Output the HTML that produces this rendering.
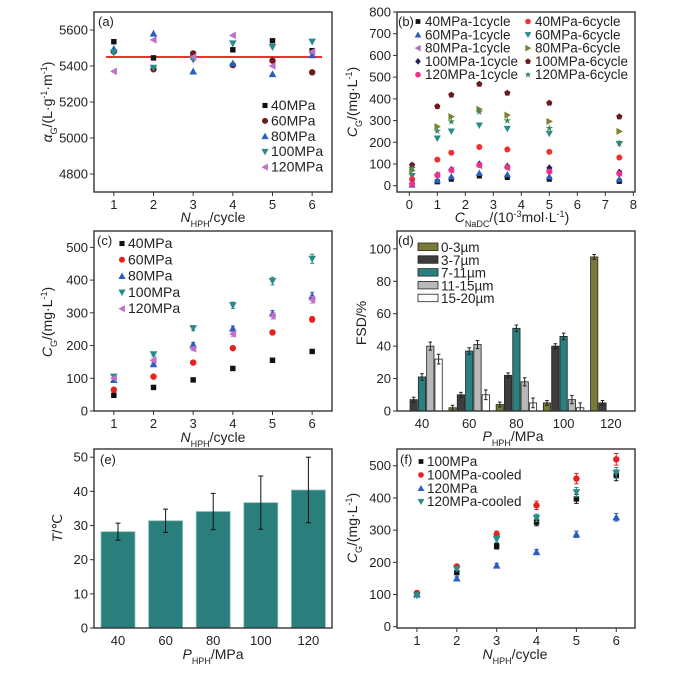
<!DOCTYPE html>
<html><head><meta charset="utf-8"><style>
html,body{margin:0;padding:0;background:#fff}
svg{display:block;font-family:"Liberation Sans",Arial,sans-serif}
</style></head><body>
<svg id="fig" width="679" height="673" viewBox="0 0 679 673" xmlns="http://www.w3.org/2000/svg"></svg>
<script>
// ---------- data ----------
const cycles = [1,2,3,4,5,6];
const pressures = ['40','60','80','100','120'];
// (a) alpha_G
const aMarkers = ['square','circle','up','down','left'];
const aColors = ['#111','#6e1c1c','#2a5fbf','#2a8c8a','#c070c8'];
const a40 = [5535,5445,5450,5490,5540,5485];
const a60 = [5480,5382,5470,5405,5430,5365];
const a80 = [5495,5580,5370,5415,5355,5460];
const a100 = [5475,5390,5435,5525,5505,5535];
const a120 = [5370,5545,5450,5570,5400,5480];
const aMean = 5450;
// (b) CG vs NaDC
const nadc = [0.1,1,1.5,2.5,3.5,5,7.5];
const bLabels = ['40MPa-1cycle','60MPa-1cycle','80MPa-1cycle','100MPa-1cycle','120MPa-1cycle','40MPa-6cycle','60MPa-6cycle','80MPa-6cycle','100MPa-6cycle','120MPa-6cycle'];
const bMarkers = ['square','up','left','diamond','circle','circle','down','right','pentagon','star'];
const bColors = ['#111','#2a5fbf','#b070c0','#20205a','#f0308a','#f03030','#2a8c8a','#808030','#6a1a1a','#3a8a5a'];
const b40_1 = [3,18,30,45,38,30,20];
const b60_1 = [5,25,42,58,52,42,30];
const b80_1 = [10,50,72,92,82,72,58];
const b100_1 = [10,50,75,100,90,82,62];
const b120_1 = [8,48,72,95,85,65,55];
const b40_6 = [30,120,152,178,167,156,130];
const b60_6 = [45,218,250,278,262,240,193];
const b80_6 = [70,272,318,352,325,296,250];
const b100_6 = [95,365,418,468,427,381,318];
const b120_6 = [80,252,295,340,300,265,195];
// (c)
const cColors = ['#111','#e82020','#2a5fbf','#2a8c8a','#c070c8'];
const c40 = [48,72,95,130,155,182];
const c60 = [65,105,148,192,240,280];
const c80 = [95,143,203,252,298,352];
const c100 = [105,173,253,323,397,465];
const c120 = [100,155,190,235,290,340];
// (d) FSD
const dLabels = ['0-3µm','3-7µm','7-11µm','11-15µm','15-20µm'];
const dColors = ['#7a7a38','#3c3c3c','#2a8080','#b8b8b8','#ffffff'];
const d0_3 = [0,2,4,5,95];
const d3_7 = [7,10,22,40,5];
const d7_11 = [21,37,51,46,0];
const d11_15 = [40,41,18,7,0];
const d15_20 = [32,10,5,2,0];
const dErr = [1.5,1.5,2,2.5,3];
// (e) temperature
const eTemp = [28.2,31.4,34.1,36.7,40.4];
const eErr = [2.5,3.4,5.3,7.8,9.6];
// (f)
const fLabels = ['100MPa','100MPa-cooled','120MPa','120MPa-cooled'];
const fMarkers = ['square','circle','up','down'];
const fColors = ['#111','#e82020','#2a5fbf','#2a8c8a'];
const f100 = [100,168,250,325,397,470];
const f100c = [105,187,287,377,460,520];
const f120 = [100,150,190,232,287,340];
const f120c = [97,180,272,338,418,478];

// ---------- helpers ----------
const NS='http://www.w3.org/2000/svg';
const svg=document.getElementById('fig');
function mk(tag,attrs,parent){const e=document.createElementNS(NS,tag);for(const k in attrs)e.setAttribute(k,attrs[k]);(parent||svg).appendChild(e);return e;}
function lin(d0,d1,r0,r1){return v=>r0+(v-d0)/(d1-d0)*(r1-r0);}
function marker(g,type,x,y,c,s){
  s=s||3.2;let e;
  if(type==='square')e=mk('rect',{x:x-s*0.85,y:y-s*0.85,width:s*1.7,height:s*1.7,fill:c},g);
  else if(type==='circle')e=mk('circle',{cx:x,cy:y,r:s,fill:c},g);
  else if(type==='diamond')e=mk('polygon',{points:`${x},${y-s*1.2} ${x+s},${y} ${x},${y+s*1.2} ${x-s},${y}`,fill:c},g);
  else if(type==='pentagon'){let p=[];for(let i=0;i<5;i++){const a=-Math.PI/2+i*2*Math.PI/5;p.push((x+s*1.1*Math.cos(a))+','+(y+s*1.1*Math.sin(a)));}e=mk('polygon',{points:p.join(' '),fill:c},g);}
  else if(type==='star'){let p=[];for(let i=0;i<10;i++){const a=-Math.PI/2+i*Math.PI/5,r=i%2?s*0.5:s*1.3;p.push((x+r*Math.cos(a))+','+(y+r*Math.sin(a)));}e=mk('polygon',{points:p.join(' '),fill:c},g);}
  else{const t=s*1.2;let pts;
    if(type==='up')pts=`${x},${y-t} ${x+t},${y+t*0.8} ${x-t},${y+t*0.8}`;
    else if(type==='down')pts=`${x},${y+t} ${x+t},${y-t*0.8} ${x-t},${y-t*0.8}`;
    else if(type==='left')pts=`${x-t},${y} ${x+t*0.8},${y-t} ${x+t*0.8},${y+t}`;
    else pts=`${x+t},${y} ${x-t*0.8},${y-t} ${x-t*0.8},${y+t}`;
    e=mk('polygon',{points:pts,fill:c},g);}
  return e;
}
function frame(g,f){mk('rect',{x:f.l,y:f.t,width:f.r-f.l,height:f.b-f.t,fill:'none',stroke:'#333','stroke-width':1.4},g);}
function yTicks(g,f,sy,vals){vals.forEach(v=>{const y=sy(v);mk('line',{x1:f.l-4,y1:y,x2:f.l,y2:y,stroke:'#333','stroke-width':1},g);
  const t=mk('text',{x:f.l-6,y:y+4.5,'text-anchor':'end','font-size':13,fill:'#222'},g);t.textContent=v;});}
function xTicks(g,f,sx,vals,labels){vals.forEach((v,i)=>{const x=sx(v);mk('line',{x1:x,y1:f.b,x2:x,y2:f.b+4,stroke:'#333','stroke-width':1},g);
  const t=mk('text',{x:x,y:f.b+17,'text-anchor':'middle','font-size':13,fill:'#222'},g);t.textContent=labels?labels[i]:v;});}
function title(g,x,y,parts,rot){
  const t=mk('text',{x:x,y:y,'text-anchor':'middle','font-size':14,fill:'#222',transform:rot?`rotate(-90 ${x} ${y})`:''},g);
  parts.forEach(p=>{const s=mk('tspan',{},t);if(p.i)s.setAttribute('font-style','italic');
    if(p.sub){s.setAttribute('font-size',9);s.setAttribute('baseline-shift','sub');}
    if(p.sup){s.setAttribute('font-size',9);s.setAttribute('baseline-shift','super');}
    s.textContent=p.t;});
  return t;
}
function label(g,x,y,txt,fs){const t=mk('text',{x:x,y:y,'font-size':fs||13.5,fill:'#222'},g);t.textContent=txt;return t;}
function errbar(g,x,y0,y1,w,c){mk('line',{x1:x,y1:y0,x2:x,y2:y1,stroke:c,'stroke-width':1},g);
  mk('line',{x1:x-w,y1:y0,x2:x+w,y2:y0,stroke:c,'stroke-width':1},g);mk('line',{x1:x-w,y1:y1,x2:x+w,y2:y1,stroke:c,'stroke-width':1},g);}
const NHPH=[{t:'N',i:1},{t:'HPH',sub:1},{t:'/cycle'}];
const CGmg=[{t:'C',i:1},{t:'G',sub:1},{t:'/(mg·L'},{t:'-1',sup:1},{t:')'}];
const PHPH=[{t:'P',i:1},{t:'HPH',sub:1},{t:'/MPa'}];

// ---------- panel a ----------
{const g=mk('g',{});
 const f={l:94,r:332,t:12,b:192};const sx=lin(0.5,6.5,f.l,f.r),sy=lin(4700,5700,f.b,f.t);
 const series=[a40,a60,a80,a100,a120];
 const line=mk('line',{x1:sx(0.8),y1:sy(aMean),x2:sx(6.25),y2:sy(aMean),stroke:'#f03030','stroke-width':2},g);
 
 series.forEach((s,k)=>s.forEach((v,i)=>{const m=marker(g,aMarkers[k],sx(cycles[i]),sy(v),aColors[k]);
   }));
 frame(g,f);yTicks(g,f,sy,[4800,5000,5200,5400,5600]);xTicks(g,f,sx,cycles);
 title(g,213,222,NHPH);title(g,52,102,[{t:'α',i:1},{t:'G',sub:1},{t:'/(L·g'},{t:'-1',sup:1},{t:'·m'},{t:'-1',sup:1},{t:')'}],true);
 label(g,98,26,'(a)',13);
 pressures.forEach((p,k)=>{const y=110+k*15.4;marker(g,aMarkers[k],265,y-4.5,aColors[k],3);label(g,271,y,p+'MPa',14);});
}
// ---------- panel b ----------
{const g=mk('g',{});
 const f={l:397,r:635,t:12,b:192};const sx=lin(-0.44,8.06,f.l,f.r),sy=lin(-29,800,f.b,f.t);
 const series=[b40_1,b60_1,b80_1,b100_1,b120_1,b40_6,b60_6,b80_6,b100_6,b120_6];
 [8,6,7,9,5,0,1,2,3,4].forEach(k=>series[k].forEach((v,i)=>{const m=marker(g,bMarkers[k],sx(nadc[i]),sy(v),bColors[k],3);
   }));
 frame(g,f);yTicks(g,f,sy,[0,100,200,300,400,500,600,700,800]);xTicks(g,f,sx,[0,1,2,3,4,5,6,7,8]);
 title(g,512,222,[{t:'C',i:1},{t:'NaDC',sub:1},{t:'/(10'},{t:'-3',sup:1},{t:'mol·L'},{t:'-1',sup:1},{t:')'}]);
 title(g,357,102,CGmg,true);
 label(g,398,26,'(b)',13);
 bLabels.forEach((lb,k)=>{const col=k<5?0:1,row=k%5;const y=26+row*13.3;const mx=col?528:418;
   marker(g,bMarkers[k],mx,y-4.5,bColors[k],2.8);label(g,mx+7,y,lb,13.5);});
}
// ---------- panel c ----------
{const g=mk('g',{});
 const f={l:94,r:332,t:231,b:411};const sx=lin(0.5,6.5,f.l,f.r),sy=lin(0,550,f.b,f.t);
 const series=[c40,c60,c80,c100,c120];
 series.forEach((s,k)=>s.forEach((v,i)=>{const x=sx(cycles[i]);errbar(g,x,sy(v*1.03),sy(v*0.97),2,aColors[k]==='#111'?'#111':cColors[k]);
   const m=marker(g,aMarkers[k],x,sy(v),cColors[k]);
   }));
 frame(g,f);yTicks(g,f,sy,[0,100,200,300,400,500]);xTicks(g,f,sx,cycles);
 title(g,213,442,NHPH);title(g,52,322,CGmg,true);
 label(g,97,245,'(c)',13);
 pressures.forEach((p,k)=>{const y=248+k*16.3;marker(g,aMarkers[k],122,y-4.5,cColors[k],3);label(g,128,y,p+'MPa',14);});
}
// ---------- panel d ----------
{const g=mk('g',{});
 const f={l:397,r:635,t:231,b:411};const sy=lin(0,111,f.b,f.t);const cx=i=>422+i*47.2;
 const series=[d0_3,d3_7,d7_11,d11_15,d15_20];const bw=7.3,step=8.3;
 series.forEach((s,k)=>s.forEach((v,i)=>{const x=cx(i)+(k-2)*step;
   if(v>0){const r=mk('rect',{x:x-bw/2,y:sy(v),width:bw,height:sy(0)-sy(v),fill:dColors[k],stroke:'#222','stroke-width':0.8},g);
   
   errbar(g,x,sy(v+dErr[k]),sy(Math.max(0,v-dErr[k])),1.8,'#222');}}));
 frame(g,f);yTicks(g,f,sy,[0,20,40,60,80,100]);
 pressures.forEach((p,i)=>{const t=mk('text',{x:cx(i),y:f.b+17,'text-anchor':'middle','font-size':13,fill:'#222'},g);t.textContent=p;});
 title(g,513,441,PHPH);title(g,366,323,[{t:'FSD/%'}],true);
 label(g,398,245,'(d)',13);
 dLabels.forEach((lb,k)=>{const y=252+k*12.8;mk('rect',{x:418,y:y-9,width:20,height:7.5,fill:dColors[k],stroke:'#222','stroke-width':0.8},g);label(g,441,y,lb,13.5);});
}
// ---------- panel e ----------
{const g=mk('g',{});
 const f={l:94,r:332,t:449,b:628};const sy=lin(0,52.4,f.b,f.t);const cx=i=>118+i*47.6;const bw=34;
 eTemp.forEach((v,i)=>{const r=mk('rect',{x:cx(i)-bw/2,y:sy(v),width:bw,height:sy(0)-sy(v),fill:'#2a7f7c',stroke:'#8fc0bd','stroke-width':0.8},g);
   
   errbar(g,cx(i),sy(v+eErr[i]),sy(v-eErr[i]),2.5,'#111');});
 frame(g,f);yTicks(g,f,sy,[0,10,20,30,40,50]);
 pressures.forEach((p,i)=>{const t=mk('text',{x:cx(i),y:f.b+17,'text-anchor':'middle','font-size':13,fill:'#222'},g);t.textContent=p;});
 title(g,213,659,PHPH);title(g,62,528,[{t:'T',i:1},{t:'/℃'}],true);
 label(g,100,464,'(e)',13);
}
// ---------- panel f ----------
{const g=mk('g',{});
 const f={l:397,r:635,t:449,b:628};const sx=lin(0.5,6.47,f.l,f.r),sy=lin(-4,552,f.b,f.t);
 const series=[f100,f100c,f120,f120c];
 series.forEach((s,k)=>s.forEach((v,i)=>{const x=sx(cycles[i]);errbar(g,x,sy(v*1.035),sy(v*0.965),2.2,fColors[k]);
   const m=marker(g,fMarkers[k],x,sy(v),fColors[k]);
   }));
 frame(g,f);yTicks(g,f,sy,[0,100,200,300,400,500]);xTicks(g,f,sx,cycles);
 title(g,515,659,NHPH);title(g,357,528,CGmg,true);
 label(g,400,464,'(f)',13);
 fLabels.forEach((lb,k)=>{const y=466+k*13.4;marker(g,fMarkers[k],421,y-4.5,fColors[k],2.8);label(g,427,y,lb,13.5);});
}
</script>
</body></html>
